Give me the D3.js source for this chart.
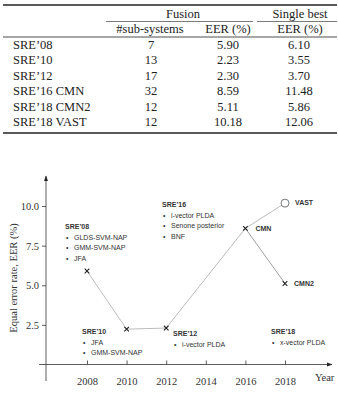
<!DOCTYPE html>
<html>
<head>
<meta charset="utf-8">
<script src="https://cdn.jsdelivr.net/npm/d3@7"></script>
<style>
body { margin: 0; background: #fff; }
svg { display: block; }
</style>
</head>
<body>
<svg width="338" height="395"></svg>
<script>
// table data
var systems = ["SRE\u201908", "SRE\u201910", "SRE\u201912", "SRE\u201916 CMN", "SRE\u201918 CMN2", "SRE\u201918 VAST"];
var subSystems = [7, 13, 17, 32, 12, 12];
var fusionEER = ["5.90", "2.23", "2.30", "8.59", "5.11", "10.18"];
var singleEER = ["6.10", "3.55", "3.70", "11.48", "5.86", "12.06"];

// chart data
var years = [2008, 2010, 2012, 2016, 2018];
var eer = [5.90, 2.23, 2.30, 8.59, 10.18];
var cmn2 = { year: 2018, eer: 5.11 };
var yTicks = [2.5, 5.0, 7.5, 10.0];
var xTicks = [2008, 2010, 2012, 2014, 2016, 2018];

var svg = d3.select("svg");
var serif = "'Liberation Serif', 'DejaVu Serif', serif";
var sans = "'Liberation Sans', Arial, sans-serif";

// ---- table ----
var tbl = svg.append("g").attr("font-family", serif).attr("font-size", 12.5).attr("fill", "#222");
tbl.append("line").attr("x1", 3).attr("x2", 337).attr("y1", 5).attr("y2", 5).attr("stroke", "#222").attr("stroke-width", 1.4);
tbl.append("line").attr("x1", 106).attr("x2", 253).attr("y1", 21.5).attr("y2", 21.5).attr("stroke", "#222").attr("stroke-width", 0.6);
tbl.append("line").attr("x1", 257).attr("x2", 337).attr("y1", 21.5).attr("y2", 21.5).attr("stroke", "#222").attr("stroke-width", 0.6);
tbl.append("line").attr("x1", 3).attr("x2", 337).attr("y1", 37).attr("y2", 37).attr("stroke", "#222").attr("stroke-width", 0.8);
tbl.append("line").attr("x1", 3).attr("x2", 337).attr("y1", 133).attr("y2", 133).attr("stroke", "#222").attr("stroke-width", 1.4);

tbl.append("text").attr("x", 183).attr("y", 17.5).attr("text-anchor", "middle").text("Fusion");
tbl.append("text").attr("x", 300).attr("y", 17.5).attr("text-anchor", "middle").text("Single best");
tbl.append("text").attr("x", 150).attr("y", 33).attr("text-anchor", "middle").text("#sub-systems");
tbl.append("text").attr("x", 228).attr("y", 33).attr("text-anchor", "middle").text("EER (%)");
tbl.append("text").attr("x", 300).attr("y", 33).attr("text-anchor", "middle").text("EER (%)");

var rowY = d3.scaleLinear().domain([0, 5]).range([49, 126]);
var rows = tbl.selectAll("g.row").data(systems).enter().append("g").attr("class", "row")
    .attr("transform", (d, i) => "translate(0," + rowY(i) + ")");
rows.append("text").attr("x", 13).text(d => d);
rows.append("text").attr("x", 151).attr("text-anchor", "middle").text((d, i) => subSystems[i]);
rows.append("text").attr("x", 228).attr("text-anchor", "middle").text((d, i) => fusionEER[i]);
rows.append("text").attr("x", 299).attr("text-anchor", "middle").text((d, i) => singleEER[i]);

// ---- chart ----
var x = d3.scaleLinear().domain([2008, 2018]).range([87, 285]);
var y = d3.scaleLinear().domain([0, 10]).range([364.5, 206]);
var axisX0 = 46, axisY0 = 364.5;

var defs = svg.append("defs");
defs.append("marker").attr("id", "arr").attr("viewBox", "0 0 10 10").attr("refX", 9).attr("refY", 5)
    .attr("markerWidth", 7).attr("markerHeight", 7).attr("orient", "auto-start-reverse")
    .append("path").attr("d", "M0,1.5 L10,5 L0,8.5 Z").attr("fill", "#222");

var ax = svg.append("g").attr("stroke", "#333").attr("stroke-width", 0.8);
ax.append("line").attr("x1", axisX0).attr("x2", axisX0).attr("y1", 381).attr("y2", 176).attr("marker-end", "url(#arr)");
ax.append("line").attr("x1", 39).attr("x2", 332).attr("y1", axisY0).attr("y2", axisY0).attr("marker-end", "url(#arr)");

var yAxis = d3.axisLeft(y).tickValues(yTicks).tickFormat(d3.format(".1f")).tickSize(4).tickPadding(3);
var gy = svg.append("g").attr("transform", "translate(" + axisX0 + ",0)").call(yAxis);
gy.select(".domain").remove();
gy.selectAll("text").attr("font-family", serif).attr("font-size", 10.5).attr("fill", "#333");
gy.selectAll("line").attr("stroke", "#333").attr("stroke-width", 0.8);

var xAxis = d3.axisTop(x).tickValues(xTicks).tickFormat(d3.format("d")).tickSize(4);
var gx = svg.append("g").attr("transform", "translate(0," + axisY0 + ")").call(xAxis);
gx.select(".domain").remove();
gx.selectAll("line").attr("stroke", "#333").attr("stroke-width", 0.8);
gx.selectAll("text").attr("y", 20).attr("font-family", serif).attr("font-size", 10.5).attr("fill", "#333");

svg.append("text").attr("x", 315).attr("y", 381).attr("font-family", serif).attr("font-size", 10.5).attr("fill", "#333").text("Year");
svg.append("text").attr("transform", "translate(17,278) rotate(-90)").attr("text-anchor", "middle")
    .attr("font-family", serif).attr("font-size", 10.5).attr("fill", "#333").text("Equal error rate, EER (%)");

// lines
var pts = years.map((d, i) => [d, eer[i]]);
var line = d3.line().x(d => x(d[0])).y(d => y(d[1]));
svg.append("path").datum(pts).attr("d", line).attr("fill", "none").attr("stroke", "#aaa").attr("stroke-width", 0.8);
svg.append("path").datum([[2016, 8.59], [cmn2.year, cmn2.eer]]).attr("d", line).attr("fill", "none").attr("stroke", "#888").attr("stroke-width", 0.8);

// markers
var crosses = pts.slice(0, 4).concat([[cmn2.year, cmn2.eer]]);
svg.append("g").selectAll("path").data(crosses).enter().append("path")
    .attr("d", d => { var cx = x(d[0]), cy = y(d[1]), s = 2.3; return "M" + (cx - s) + "," + (cy - s) + "L" + (cx + s) + "," + (cy + s) + "M" + (cx - s) + "," + (cy + s) + "L" + (cx + s) + "," + (cy - s); })
    .attr("stroke", "#222").attr("stroke-width", 1.1);
svg.append("circle").attr("cx", x(2018)).attr("cy", y(10.18)).attr("r", 4).attr("fill", "#fff").attr("stroke", "#555").attr("stroke-width", 0.8);

// annotations
var notes = [
    { x: 65, y: 229, title: "SRE\u201908", items: ["GLDS-SVM-NAP", "GMM-SVM-NAP", "JFA"] },
    { x: 82, y: 334, title: "SRE\u201910", items: ["JFA", "GMM-SVM-NAP"] },
    { x: 162, y: 207, title: "SRE\u201916", items: ["i-vector PLDA", "Senone posterior", "BNF"] },
    { x: 173, y: 336, title: "SRE\u201912", items: ["i-vector PLDA"] },
    { x: 271, y: 334, title: "SRE\u201918", items: ["x-vector PLDA"] }
];
var ng = svg.append("g").attr("font-family", sans).attr("font-size", 7).attr("fill", "#333");
notes.forEach(function(n) {
    ng.append("text").attr("x", n.x).attr("y", n.y).attr("font-weight", "bold").text(n.title);
    n.items.forEach(function(t, i) {
        ng.append("text").attr("x", n.x + 1).attr("y", n.y + 10.5 * (i + 1)).text("\u2022");
        ng.append("text").attr("x", n.x + 9).attr("y", n.y + 10.5 * (i + 1)).text(t);
    });
});
var tags = [
    { x: x(2018) + 10, y: y(10.18) + 2, t: "VAST" },
    { x: x(2016) + 10, y: y(8.59) + 2.5, t: "CMN" },
    { x: x(2018) + 9, y: y(5.11) + 2.5, t: "CMN2" }
];
ng.selectAll("text.tag").data(tags).enter().append("text").attr("class", "tag")
    .attr("x", d => d.x).attr("y", d => d.y).attr("font-weight", "bold").text(d => d.t);
</script>
</body>
</html>
